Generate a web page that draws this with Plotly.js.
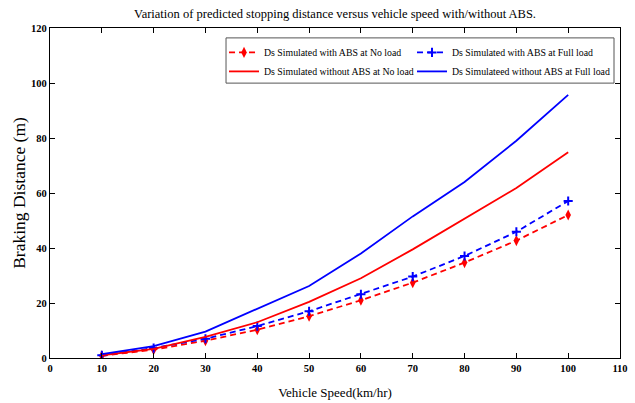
<!DOCTYPE html>
<html>
<head>
<meta charset="utf-8">
<script src="https://cdn.plot.ly/plotly-3.0.1.min.js"></script>
<style>html,body{margin:0;padding:0;background:#fff;}#chart{width:635px;height:403px;}</style>
</head>
<body>
<div id="chart"></div>
<script>
// Data
var speed = [10, 20, 30, 40, 50, 60, 70, 80, 90, 100];
var absNoLoad = [0.8, 3.0, 6.3, 10.3, 15.2, 21.0, 27.4, 34.7, 42.7, 52.0];
var absFullLoad = [1.0, 3.6, 7.0, 11.6, 17.0, 23.2, 29.6, 37.1, 45.9, 57.1];
var noAbsNoLoad = [1.0, 3.3, 7.7, 13.0, 20.4, 29.0, 39.5, 50.8, 61.8, 74.8];
var noAbsFullLoad = [1.4, 4.3, 9.6, 18.0, 26.2, 38.0, 51.5, 64.0, 79.0, 95.7];
var seriesNames = [
  'Ds Simulated with ABS at No load',
  'Ds Simulated with ABS at Full load',
  'Ds Simulated without ABS at No load',
  'Ds Simulateed without ABS at Full load'
];
var xTicks = [0, 10, 20, 30, 40, 50, 60, 70, 80, 90, 100, 110];
var yTicks = [0, 20, 40, 60, 80, 100, 120];

var serif = '"Liberation Serif", "Times New Roman", serif';

var traces = [
  {x: speed, y: absNoLoad, name: seriesNames[0], mode: 'lines+markers', legend: 'legend',
   line: {color: '#ff0000', width: 1.8, dash: '6px,4px'},
   marker: {symbol: 'diamond-tall', size: 8, color: '#ff0000'}},
  {x: speed, y: absFullLoad, name: seriesNames[1], mode: 'lines+markers', legend: 'legend2',
   line: {color: '#0000ff', width: 1.8, dash: '6px,4px'},
   marker: {symbol: 'cross-thin', size: 6.5, color: '#0000ff', line: {color: '#0000ff', width: 2}}},
  {x: speed, y: noAbsNoLoad, name: seriesNames[2], mode: 'lines', legend: 'legend',
   line: {color: '#ff0000', width: 1.8}},
  {x: speed, y: noAbsFullLoad, name: seriesNames[3], mode: 'lines', legend: 'legend2',
   line: {color: '#0000ff', width: 1.8}}
];

function legendDef(xpos) {
  return {
    yref: 'paper', xref: 'paper', x: xpos, y: 0.97, yanchor: 'top', xanchor: 'left',
    bgcolor: 'rgba(0,0,0,0)', borderwidth: 0, orientation: 'v',
    font: {family: serif, size: 9.8, color: '#000'}, tracegroupgap: 0
  };
}

var layout = {
  width: 635, height: 403,
  margin: {l: 50, r: 15, t: 28, b: 45},
  paper_bgcolor: '#fff', plot_bgcolor: '#fff',
  font: {family: serif, color: '#000'},
  showlegend: true,
  title: {text: 'Variation of predicted stopping distance versus vehicle speed with/without ABS.',
    font: {family: serif, size: 12.5, color: '#000'}, xref: 'paper', x: 0.5, xanchor: 'center',
    yref: 'container', y: 0.965, yanchor: 'middle'},
  xaxis: {
    range: [0, 110], tickvals: xTicks, ticktext: xTicks.map(String),
    showgrid: false, zeroline: false, showline: true, linecolor: '#000', linewidth: 1.2,
    mirror: 'ticks', ticks: 'inside', ticklen: 5, tickwidth: 1, tickcolor: '#000',
    tickfont: {family: serif, size: 10.5, color: '#000', weight: 'bold'},
    title: {text: 'Vehicle Speed(km/hr)', font: {family: serif, size: 13, color: '#000'}, standoff: 15}
  },
  yaxis: {
    range: [0, 120], tickvals: yTicks, ticktext: yTicks.map(String),
    showgrid: false, zeroline: false, showline: true, linecolor: '#000', linewidth: 1.2,
    mirror: 'ticks', ticks: 'inside', ticklen: 5, tickwidth: 1, tickcolor: '#000',
    tickfont: {family: serif, size: 10.5, color: '#000', weight: 'bold'},
    title: {text: 'Braking Distance (m)', font: {family: serif, size: 17.5, color: '#000'}, standoff: 0}
  },
  legend: legendDef(0.3053),
  legend2: legendDef(0.6351),
  shapes: [{type: 'rect', xref: 'paper', yref: 'paper', x0: 0.3088, x1: 0.9895, y0: 0.833, y1: 0.97,
    line: {color: '#555', width: 1}, fillcolor: 'rgba(0,0,0,0)', layer: 'above'}]
};

Plotly.newPlot('chart', traces, layout, {displayModeBar: false, staticPlot: true});
</script>
</body>
</html>
